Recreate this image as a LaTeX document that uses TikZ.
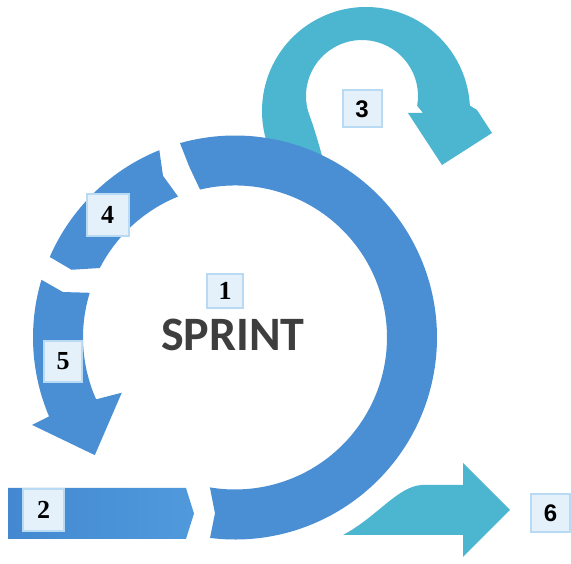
\documentclass[tikz,border=0pt]{standalone}
\usepackage{fontspec}
\newfontfamily\tagserif{Liberation Serif}
\newfontfamily\tagsans{Liberation Sans}
\newfontfamily\titlefont{Carlito}
\usetikzlibrary{calc}
\definecolor{sprintblue}{HTML}{4A8ED3}
\definecolor{barleft}{HTML}{4388D0}
\definecolor{barright}{HTML}{509ADC}
\definecolor{loopcyan}{HTML}{4CB5D0}
\definecolor{tagfill}{HTML}{E4F1FB}
\definecolor{tagline}{HTML}{B8DBF3}
\definecolor{titlegray}{HTML}{3E3E3E}
\begin{document}
\begin{tikzpicture}[x=1pt,y=1pt,
  band/.style={fill=sprintblue,draw=none},
  loopband/.style={fill=loopcyan,draw=none},
  tag/.style={draw=tagline,line width=2pt,fill=tagfill,inner sep=0pt,
    text=black,font=\tagserif\bfseries\fontsize{26}{26}\selectfont},
  sanstag/.style={tag,font=\tagsans\bfseries\fontsize{24}{24}\selectfont}]
\useasboundingbox (0,0) rectangle (571,564);
\coordinate (C1) at (235,226.5);  % centre of the sprint circle
\coordinate (Co) at (366,453);    % outer centre of the top loop
\coordinate (Ci) at (362,468);    % inner centre of the top loop

% top loop (3), its left foot hidden behind the sprint arc
\path[loopband] ($(Co)+(205:104pt)$) arc[start angle=205,end angle=3,radius=104pt]
  -- (477,454) -- (492,431) -- (442,399) -- (408,451) -- (423,451)
  -- ($(Ci)+(-10:56pt)$) arc[start angle=-10,end angle=200,radius=56pt]
  .. controls (315.4,432.8) and (321,412) .. (326,394)
  -- cycle;

% main sprint arc (1)
\path[band] ($(C1)+(-97.1:202pt)$) arc[start angle=-97.1,end angle=105.8,radius=202pt]
  -- ($(C1)+(105:177pt)$) -- ($(C1)+(103.3:152pt)$)
  arc[start angle=103.3,end angle=-99.5,radius=152pt]
  -- ($(C1)+(-96.5:177pt)$) -- cycle;

% chevron segment (4)
\path[band] ($(C1)+(112:202pt)$) arc[start angle=112,end angle=156.5,radius=202pt]
  -- ($(C1)+(157.5:177pt)$) -- ($(C1)+(152.8:152pt)$)
  arc[start angle=152.8,end angle=112,radius=152pt]
  -- ($(C1)+(114:177pt)$) -- cycle;

% arrow segment (5)
\path[band] ($(C1)+(163.4:202pt)$) arc[start angle=163.4,end angle=203,radius=202pt]
  -- ($(C1)+(203.3:221pt)$) -- ($(C1)+(220:183pt)$) -- ($(C1)+(206:126pt)$)
  -- ($(C1)+(204:152pt)$) arc[start angle=204,end angle=162.9,radius=152pt]
  -- ($(C1)+(165.2:178pt)$) -- cycle;

% entry bar (2)
\path[left color=barleft,right color=barright]
  (8,25) -- (186,25) -- (194,50.5) -- (186,76) -- (8,76) -- cycle;

% exit arrow (6)
\path[loopband] (343,29) .. controls (377,47) and (398,78) .. (422,79)
  -- (463,79) -- (463,101) -- (510,54) -- (463,7) -- (463,29) -- cycle;

% labels
\node[tag,minimum width=36pt,minimum height=34pt] (t1) at (225,273) {1};
\node[tag,minimum width=41pt,minimum height=42pt] (t2) at (43.5,54) {2};
\node[sanstag,minimum width=39pt,minimum height=37pt] (t3) at (362,455) {3};
\node[tag,minimum width=42pt,minimum height=42pt] (t4) at (107.5,349) {4};
\node[tag,minimum width=38pt,minimum height=41pt] (t5) at (63,202.5) {5};
\node[sanstag,minimum width=39pt,minimum height=38pt] (t6) at (550.5,51) {6};
\node[font=\titlefont\bfseries\fontsize{48}{48}\selectfont,text=titlegray]
  (title) at (233,229) {SPRINT};
\end{tikzpicture}
\end{document}
